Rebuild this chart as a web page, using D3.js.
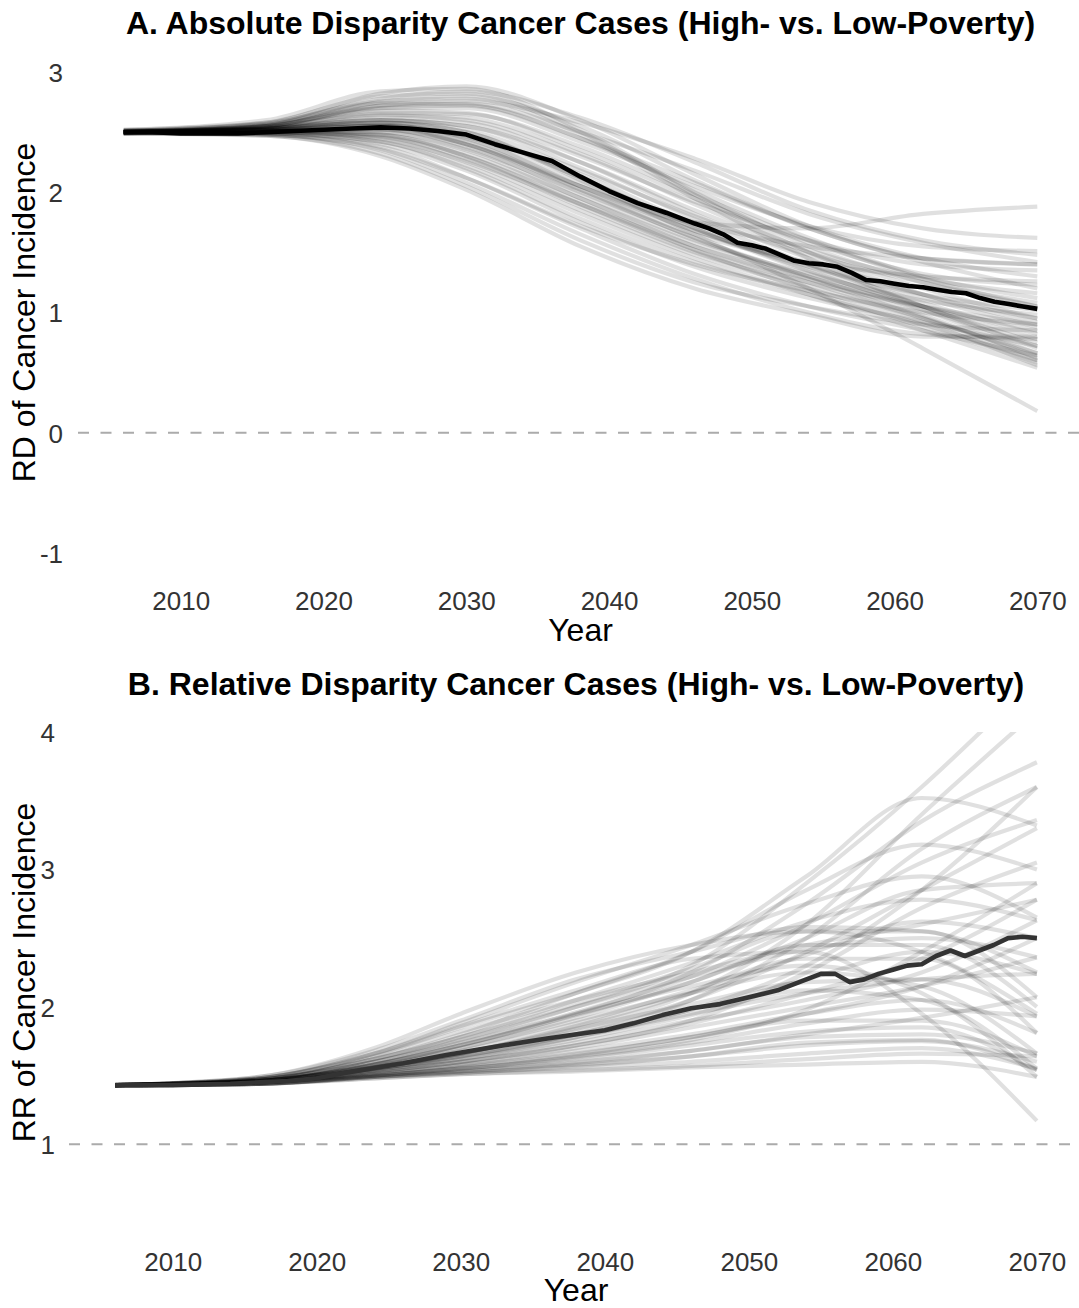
<!DOCTYPE html>
<html><head><meta charset="utf-8">
<script src="https://cdn.jsdelivr.net/npm/d3@7"></script>
<style>
body{margin:0;background:#fff}
svg{display:block}
text{font-family:"Liberation Sans",Arial,Helvetica,sans-serif}
</style>
</head><body>
<svg id="chart" width="1079" height="1308"></svg>
<script>
// ---------------- DATA ----------------
const knotYears = [2006, 2016, 2024, 2030, 2038, 2046, 2054, 2062, 2070];

// Panel A: simulated RD trajectories (values at knotYears)
const simsA = [
  [2.52, 2.58, 2.82, 2.88, 2.60, 2.15, 1.72, 1.45, 1.30],
  [2.51, 2.57, 2.78, 2.84, 2.62, 2.25, 1.85, 1.60, 1.48],
  [2.50, 2.56, 2.75, 2.80, 2.55, 2.10, 1.70, 1.42, 1.20],
  [2.52, 2.60, 2.84, 2.86, 2.52, 2.00, 1.55, 1.25, 1.05],
  [2.49, 2.55, 2.72, 2.76, 2.58, 2.28, 1.92, 1.70, 1.62],
  [2.50, 2.56, 2.74, 2.73, 2.45, 2.02, 1.62, 1.30, 1.12],
  [2.51, 2.58, 2.80, 2.82, 2.50, 1.98, 1.50, 1.15, 0.92],
  [2.50, 2.55, 2.70, 2.70, 2.42, 2.05, 1.72, 1.55, 1.51],
  [2.51, 2.57, 2.76, 2.78, 2.48, 1.95, 1.45, 1.05, 0.75],
  [2.50, 2.55, 2.68, 2.66, 2.35, 1.95, 1.58, 1.32, 1.23],
  [2.50, 2.54, 2.65, 2.62, 2.32, 1.90, 1.52, 1.28, 1.16],
  [2.49, 2.53, 2.62, 2.58, 2.25, 1.82, 1.45, 1.15, 0.95],
  [2.50, 2.54, 2.64, 2.60, 2.30, 1.92, 1.60, 1.40, 1.35],
  [2.51, 2.54, 2.60, 2.55, 2.20, 1.78, 1.40, 1.08, 0.82],
  [2.50, 2.53, 2.60, 2.52, 2.18, 1.80, 1.48, 1.25, 1.08],
  [2.49, 2.53, 2.58, 2.50, 2.12, 1.72, 1.38, 1.05, 0.70],
  [2.50, 2.53, 2.58, 2.48, 2.15, 1.75, 1.55, 1.45, 1.40],
  [2.50, 2.52, 2.56, 2.45, 2.05, 1.68, 1.40, 1.12, 0.88],
  [2.50, 2.52, 2.55, 2.42, 2.02, 1.62, 1.30, 0.98, 0.62],
  [2.50, 2.52, 2.55, 2.40, 2.05, 1.75, 1.70, 1.82, 1.88],
  [2.51, 2.53, 2.56, 2.44, 2.08, 1.70, 1.35, 1.02, 0.66],
  [2.50, 2.52, 2.52, 2.38, 1.98, 1.60, 1.32, 1.10, 0.98],
  [2.50, 2.51, 2.50, 2.35, 1.95, 1.55, 1.25, 0.95, 0.60],
  [2.50, 2.52, 2.53, 2.40, 2.02, 1.65, 1.42, 1.30, 1.26],
  [2.50, 2.53, 2.58, 2.50, 2.10, 1.65, 1.20, 0.70, 0.18],
  [2.49, 2.50, 2.46, 2.28, 1.88, 1.50, 1.22, 0.95, 0.66],
  [2.50, 2.50, 2.45, 2.25, 1.85, 1.48, 1.20, 0.92, 0.56],
  [2.49, 2.49, 2.42, 2.20, 1.78, 1.42, 1.15, 0.90, 0.60],
  [2.50, 2.49, 2.40, 2.18, 1.75, 1.38, 1.12, 0.92, 0.72],
  [2.49, 2.48, 2.38, 2.12, 1.70, 1.32, 1.05, 0.85, 0.64],
  [2.50, 2.48, 2.35, 2.08, 1.65, 1.28, 1.00, 0.82, 0.78],
  [2.50, 2.47, 2.32, 2.05, 1.60, 1.25, 1.05, 0.90, 0.85],
  [2.49, 2.47, 2.30, 2.02, 1.55, 1.20, 0.98, 0.80, 0.80],
  [2.50, 2.48, 2.36, 2.12, 1.72, 1.40, 1.18, 1.00, 0.90],
  [2.50, 2.49, 2.42, 2.22, 1.82, 1.45, 1.15, 0.85, 0.54],
  [2.50, 2.50, 2.44, 2.26, 1.90, 1.55, 1.28, 1.05, 0.85],
  [2.51, 2.51, 2.48, 2.32, 1.95, 1.58, 1.30, 1.02, 0.72],
  [2.50, 2.50, 2.47, 2.30, 1.92, 1.52, 1.18, 0.88, 0.58],
  [2.50, 2.51, 2.50, 2.36, 2.00, 1.62, 1.28, 0.96, 0.64],
  [2.51, 2.52, 2.52, 2.40, 2.05, 1.68, 1.38, 1.15, 1.02],
  [2.50, 2.52, 2.55, 2.46, 2.12, 1.70, 1.34, 1.05, 0.78],
  [2.50, 2.53, 2.60, 2.55, 2.25, 1.85, 1.50, 1.20, 0.95],
  [2.50, 2.54, 2.66, 2.65, 2.38, 1.98, 1.60, 1.28, 1.05],
  [2.51, 2.55, 2.70, 2.72, 2.45, 2.08, 1.70, 1.45, 1.40],
  [2.50, 2.55, 2.72, 2.74, 2.50, 2.18, 1.82, 1.58, 1.42],
  [2.50, 2.51, 2.48, 2.30, 1.90, 1.52, 1.25, 1.05, 0.90]
];

// Panel A: average trajectory
const meanAYears  = [2006,2008,2010,2012,2014,2016,2018,2020,2022,2024,2026,2028,2030,2032,2034,2036,2038,2040,2042,2044,2046,2047,2048,2049,2050,2051,2052,2053,2054,2055,2056,2057,2058,2059,2060,2061,2062,2063,2064,2065,2066,2067,2068,2069,2070];
const meanAValues = [2.50,2.50,2.49,2.49,2.49,2.50,2.51,2.52,2.53,2.54,2.53,2.51,2.48,2.40,2.33,2.26,2.13,2.01,1.91,1.83,1.74,1.70,1.65,1.58,1.56,1.53,1.48,1.43,1.41,1.40,1.38,1.33,1.27,1.26,1.24,1.22,1.21,1.19,1.17,1.16,1.12,1.09,1.07,1.05,1.03];

// Panel B: simulated RR trajectories (values at knotYears)
const simsB = [
  [1.43, 1.46, 1.56, 1.66, 1.85, 2.10, 2.60, 3.40, 4.15],
  [1.43, 1.47, 1.60, 1.75, 2.00, 2.30, 2.90, 3.60, 4.40],
  [1.43, 1.46, 1.58, 1.72, 1.95, 2.25, 2.75, 3.35, 3.78],
  [1.43, 1.46, 1.55, 1.64, 1.80, 2.05, 2.50, 3.15, 3.60],
  [1.43, 1.48, 1.65, 1.85, 2.10, 2.40, 2.95, 3.52, 3.32],
  [1.43, 1.47, 1.62, 1.80, 2.10, 2.40, 2.85, 3.18, 3.00],
  [1.43, 1.46, 1.55, 1.65, 1.82, 2.05, 2.40, 2.85, 3.30],
  [1.43, 1.48, 1.66, 1.88, 2.18, 2.45, 2.75, 2.95, 2.65],
  [1.43, 1.46, 1.57, 1.70, 1.92, 2.18, 2.50, 2.85, 2.90],
  [1.43, 1.45, 1.53, 1.60, 1.72, 1.90, 2.25, 2.72, 3.05],
  [1.43, 1.49, 1.70, 1.95, 2.25, 2.45, 2.55, 2.40, 1.95],
  [1.43, 1.49, 1.68, 1.90, 2.20, 2.40, 2.58, 2.55, 2.25],
  [1.43, 1.48, 1.64, 1.82, 2.05, 2.25, 2.45, 2.60, 2.78],
  [1.43, 1.47, 1.60, 1.76, 2.00, 2.22, 2.42, 2.50, 2.36],
  [1.43, 1.47, 1.62, 1.78, 2.02, 2.28, 2.55, 2.55, 2.07],
  [1.43, 1.48, 1.66, 1.86, 2.12, 2.35, 2.40, 1.95, 1.17],
  [1.43, 1.47, 1.60, 1.74, 1.95, 2.15, 2.30, 2.10, 1.49],
  [1.43, 1.46, 1.58, 1.70, 1.90, 2.10, 2.25, 2.15, 1.66],
  [1.43, 1.46, 1.56, 1.66, 1.84, 2.02, 2.18, 2.20, 1.93],
  [1.43, 1.46, 1.55, 1.63, 1.78, 1.95, 2.10, 2.20, 2.24],
  [1.43, 1.45, 1.53, 1.60, 1.74, 1.90, 2.05, 2.25, 2.63],
  [1.43, 1.45, 1.52, 1.58, 1.70, 1.85, 2.00, 2.15, 2.36],
  [1.43, 1.45, 1.52, 1.58, 1.68, 1.80, 1.95, 2.05, 1.81],
  [1.43, 1.45, 1.51, 1.56, 1.65, 1.78, 1.90, 1.90, 1.64],
  [1.43, 1.45, 1.50, 1.55, 1.62, 1.72, 1.82, 1.85, 1.54],
  [1.43, 1.44, 1.50, 1.54, 1.60, 1.68, 1.78, 1.80, 1.66],
  [1.43, 1.44, 1.49, 1.53, 1.58, 1.64, 1.72, 1.75, 1.60],
  [1.43, 1.44, 1.49, 1.52, 1.56, 1.60, 1.66, 1.70, 1.55],
  [1.43, 1.44, 1.48, 1.51, 1.54, 1.57, 1.62, 1.66, 1.64],
  [1.43, 1.44, 1.48, 1.51, 1.53, 1.56, 1.58, 1.60, 1.49],
  [1.43, 1.44, 1.49, 1.53, 1.59, 1.68, 1.80, 1.92, 2.07],
  [1.43, 1.45, 1.51, 1.57, 1.66, 1.78, 1.95, 2.15, 2.50],
  [1.43, 1.45, 1.53, 1.60, 1.72, 1.88, 2.10, 2.35, 2.78],
  [1.43, 1.46, 1.56, 1.66, 1.86, 2.10, 2.38, 2.62, 2.50],
  [1.43, 1.46, 1.57, 1.68, 1.88, 2.12, 2.35, 2.35, 1.81],
  [1.43, 1.45, 1.54, 1.62, 1.76, 1.94, 2.12, 2.05, 1.55],
  [1.43, 1.44, 1.50, 1.55, 1.63, 1.74, 1.88, 1.98, 1.93],
  [1.43, 1.45, 1.55, 1.64, 1.80, 1.98, 2.20, 2.40, 2.24],
  [1.43, 1.46, 1.58, 1.72, 1.96, 2.22, 2.60, 3.05, 3.36],
  [1.43, 1.45, 1.54, 1.62, 1.78, 1.98, 2.30, 2.85, 3.60],
  [1.43, 1.44, 1.50, 1.55, 1.64, 1.76, 1.98, 2.40, 2.90],
  [1.43, 1.47, 1.62, 1.78, 2.05, 2.32, 2.62, 2.78, 2.63],
  [1.43, 1.44, 1.49, 1.52, 1.57, 1.64, 1.74, 1.76, 1.54],
  [1.43, 1.46, 1.58, 1.72, 1.94, 2.18, 2.45, 2.45, 2.00]
];

// Panel B: average trajectory
const meanBYears  = [2006,2010,2014,2018,2020,2022,2026,2029,2033,2036,2040,2042,2044,2046,2048,2050,2052,2053,2054,2055,2056,2057,2058,2059,2060,2061,2062,2063,2064,2065,2066,2067,2068,2069,2070];
const meanBValues = [1.43,1.43,1.44,1.46,1.48,1.52,1.59,1.65,1.72,1.77,1.83,1.88,1.94,1.99,2.02,2.07,2.12,2.16,2.20,2.24,2.24,2.18,2.20,2.24,2.27,2.30,2.31,2.37,2.41,2.37,2.41,2.45,2.50,2.51,2.50];

// Axis ticks and labels
const xTicks  = [2010, 2020, 2030, 2040, 2050, 2060, 2070];
const yTicksA = [-1, 0, 1, 2, 3];
const yTicksB = [1, 2, 3, 4];
const titleA = "A. Absolute Disparity Cancer Cases (High- vs. Low-Poverty)";
const titleB = "B. Relative Disparity Cancer Cases (High- vs. Low-Poverty)";
const yLabelA = "RD of Cancer Incidence";
const yLabelB = "RR of Cancer Incidence";
const xLabel = "Year";

// ---------------- DRAW ----------------
const svg = d3.select("#chart");
const FONT_TICK = 26, FONT_AXIS = 32, FONT_TITLE = 32;
const plainFmt = d => String(d);

function drawPanel(p, idx) {
  const x = d3.scaleLinear().domain([2002.8, 2073.2]).range([p.left, p.right]);
  const y = d3.scaleLinear().domain(p.yDomain).range([p.bottom, p.top]);
  const g = svg.append("g");

  // reference dashed line
  g.append("line")
    .attr("x1", p.left).attr("x2", p.right)
    .attr("y1", y(p.ref)).attr("y2", y(p.ref))
    .attr("stroke", "#ababab").attr("stroke-width", 2)
    .attr("stroke-dasharray", "11,11.5");

  // clip for the y-limits
  const clipId = "clip" + idx;
  svg.append("clipPath").attr("id", clipId)
    .append("rect")
    .attr("x", p.left).attr("width", p.right - p.left)
    .attr("y", y(p.yLimit[1])).attr("height", y(p.yLimit[0]) - y(p.yLimit[1]));

  const simLine = d3.line()
    .x((d, i) => x(knotYears[i]))
    .y(d => y(d))
    .curve(d3.curveMonotoneX);

  g.append("g").attr("clip-path", `url(#${clipId})`)
    .selectAll("path").data(p.sims).join("path")
    .attr("d", simLine)
    .attr("fill", "none")
    .attr("stroke", "#000")
    .attr("stroke-opacity", 0.12)
    .attr("stroke-width", 4.2);

  const meanLine = d3.line()
    .x(d => x(d[0]))
    .y(d => y(d[1]))
    .curve(d3.curveLinear);
  g.append("path")
    .datum(d3.zip(p.meanYears, p.meanValues))
    .attr("d", meanLine)
    .attr("fill", "none")
    .attr("stroke", p.meanColor)
    .attr("stroke-width", 4.6)
    .attr("stroke-linejoin", "round");

  // x axis
  const xa = g.append("g")
    .attr("transform", `translate(0,${p.xTickY})`)
    .call(d3.axisBottom(x).tickValues(xTicks).tickSize(0).tickPadding(0).tickFormat(plainFmt));
  xa.select(".domain").remove();
  xa.selectAll("text")
    .attr("y", 0).attr("dy", "0.36em")
    .attr("font-size", FONT_TICK).attr("fill", "#333")
    .style("font-family", '"Liberation Sans",Arial,sans-serif');

  // y axis
  const ya = g.append("g")
    .attr("transform", `translate(${p.yTickX},0)`)
    .call(d3.axisLeft(y).tickValues(p.yTicks).tickSize(0).tickPadding(0).tickFormat(plainFmt));
  ya.select(".domain").remove();
  ya.selectAll("text")
    .attr("dy", "0.36em")
    .attr("font-size", FONT_TICK).attr("fill", "#333")
    .style("font-family", '"Liberation Sans",Arial,sans-serif');

  // titles
  g.append("text")
    .attr("x", (p.left + p.right) / 2).attr("y", p.titleY)
    .attr("text-anchor", "middle")
    .attr("font-size", FONT_TITLE).attr("font-weight", "bold")
    .attr("fill", "#000")
    .text(p.title);

  g.append("text")
    .attr("x", (p.left + p.right) / 2).attr("y", p.xLabelY)
    .attr("text-anchor", "middle")
    .attr("font-size", FONT_AXIS).attr("fill", "#000")
    .text(xLabel);

  g.append("text")
    .attr("transform", `translate(${p.yLabelX},${(p.top + p.bottom) / 2}) rotate(-90)`)
    .attr("text-anchor", "middle")
    .attr("font-size", FONT_AXIS).attr("fill", "#000")
    .text(p.yLabel);
}

drawPanel({
  left: 78, right: 1083, top: 48, bottom: 577,
  yDomain: [-1.2, 3.2], yLimit: [-1.2, 3.2], ref: 0,
  sims: simsA, meanYears: meanAYears, meanValues: meanAValues, meanColor: "#000",
  yTicks: yTicksA, yTickX: 63, xTickY: 601,
  title: titleA, titleY: 34, xLabelY: 641, yLabel: yLabelA, yLabelX: 35
}, 0);

drawPanel({
  left: 69, right: 1083, top: 708, bottom: 1237,
  yDomain: [0.325, 4.175], yLimit: [0.325, 4.0], ref: 1,
  sims: simsB, meanYears: meanBYears, meanValues: meanBValues, meanColor: "#333",
  yTicks: yTicksB, yTickX: 55, xTickY: 1262,
  title: titleB, titleY: 695, xLabelY: 1301, yLabel: yLabelB, yLabelX: 35
}, 1);
</script>
</body></html>
